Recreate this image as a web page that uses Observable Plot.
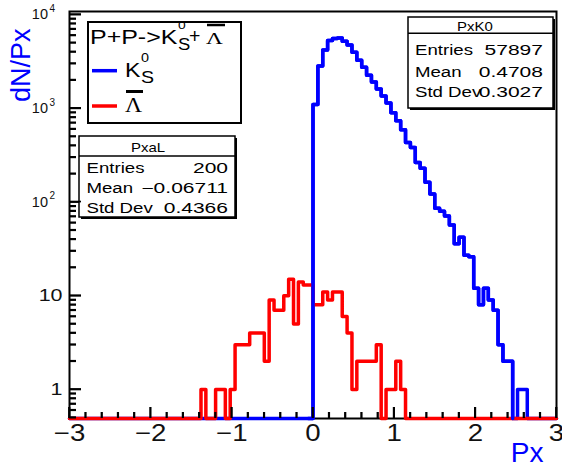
<!DOCTYPE html>
<html><head><meta charset="utf-8">
<script src="https://cdn.jsdelivr.net/npm/d3@7"></script>
<script src="https://cdn.jsdelivr.net/npm/@observablehq/plot@0.6"></script>
</head><body style="margin:0;background:#fff"><div id="chart"></div>
<script>
// ---- data ----
const xRange = [-3, 3];
const binWidth = 0.06;
const yRange = [0.49, 10800];
const kaonStart = 0;
const kaonCounts = [1097, 2838, 4190, 5300, 5570, 5640, 5215, 4730, 3960, 3260, 2750, 2260, 1905, 1608, 1355, 1143, 896, 738, 592, 431, 382, 265, 229, 163, 122, 86, 80, 71, 57, 36, 42, 27, 26, 12, 8, 12, 9, 7, 3, 2, 2, 0, 1, 1];
const lambdaStart = -1.38;
const lambdaCounts = [1, 0, 0, 1, 1, 0, 1, 3, 3, 3, 4, 4, 4, 2, 9, 7, 7, 10, 15, 5, 14, 13, 13, 8, 8, 11, 9, 11, 11, 6, 4, 1, 2, 2, 2, 2, 3, 0, 1, 1, 2, 1];
const xMajorTicks = [-3, -2, -1, 0, 1, 2, 3];
const xMinorTicks = d3.range(-3, 3.0001, 0.2).map(v => +v.toFixed(2)).filter(v => !xMajorTicks.includes(v));
const yMajorTicks = [1, 10, 100, 1000, 10000];
const yPowerTicks = [100, 1000, 10000];
const yPlainTicks = [1, 10];
const yMinorTicks = [0.1, 1, 10, 100, 1000].flatMap(p => [2,3,4,5,6,7,8,9].map(m => +(m*p).toPrecision(3))).filter(v => v >= yRange[0] && v <= yRange[1]);
const kaonStats = {name: "PxK0", rows: [["Entries", "57897"], ["Mean", "0.4708"], ["Std Dev", "0.3027"]]};
const lambdaStats = {name: "PxaL", rows: [["Entries", "200"], ["Mean", "\u22120.06711"], ["Std Dev", "0.4366"]]};

function histPoints(start, counts) {
  const n = Math.round((xRange[1] - xRange[0]) / binWidth);
  const off = Math.round((start - xRange[0]) / binWidth);
  const pts = [];
  for (let i = 0; i < n; i++) {
    const k = i - off;
    const c = (k >= 0 && k < counts.length) ? counts[k] : 0;
    pts.push({x: +(xRange[0] + i * binWidth).toFixed(4), y: c > 0 ? c : yRange[0]});
  }
  pts.push({x: xRange[1], y: pts[n - 1].y});
  return pts;
}
const kaonPts = histPoints(kaonStart, kaonCounts);
const lambdaPts = histPoints(lambdaStart, lambdaCounts);
const firstZero = kaonCounts.indexOf(0);
const kaonTopEnd = kaonStart + firstZero * binWidth;
const kaonTop = kaonPts.filter(d => d.x >= kaonStart - binWidth - 1e-9 && d.x <= kaonTopEnd + 1e-9);

const W = 562, H = 468, mL = 69, mR = 6, mT = 11, mB = 50;
const frameW = W - mL - mR, frameH = H - mT - mB;
const fmtX = d => d < 0 ? "\u2212" + Math.abs(d) : String(d);
const font = "'Liberation Sans', Arial, Helvetica, sans-serif";
const tickStyle = {stroke: "black", strokeWidth: 1.7};

const plot = Plot.plot({
  width: W, height: H,
  marginLeft: mL, marginRight: mR, marginTop: mT, marginBottom: mB,
  style: {fontFamily: font, background: "white", color: "black"},
  x: {domain: xRange, axis: null},
  y: {type: "log", domain: yRange, axis: null},
  marks: [
    Plot.frame({stroke: "black", strokeWidth: 2}),
    Plot.line(kaonPts, {x: "x", y: "y", curve: "step-after", stroke: "#0000ff", strokeWidth: 3.5}),
    Plot.line(lambdaPts, {x: "x", y: "y", curve: "step-after", stroke: "#ff0000", strokeWidth: 3.5}),
    Plot.line(kaonTop, {x: "x", y: "y", curve: "step-after", stroke: "#0000ff", strokeWidth: 3.5}),
    Plot.ruleX(xMinorTicks, {x: d => d, insetTop: frameH - 6, ...tickStyle}),
    Plot.ruleX(xMajorTicks, {x: d => d, insetTop: frameH - 11, ...tickStyle}),
    Plot.ruleY(yMinorTicks, {y: d => d, insetRight: frameW - 7, ...tickStyle}),
    Plot.ruleY(yMajorTicks, {y: d => d, insetRight: frameW - 12, ...tickStyle}),
    Plot.text(xMajorTicks, {x: d => d, frameAnchor: "bottom", dy: 15.5, text: fmtX, fontSize: 23, lineAnchor: "middle", fill: "#111", ariaDescription: "stretch-1.2"}),
    Plot.text(yPlainTicks, {y: d => d, frameAnchor: "left", dx: -7, textAnchor: "end", text: d => String(d), fontSize: 16.5, lineAnchor: "middle", fill: "#111", ariaDescription: "stretch-1.3"}),
    Plot.text(yPowerTicks, {y: d => d, frameAnchor: "left", dx: -21.5, textAnchor: "end", text: () => "10", fontSize: 14.5, lineAnchor: "middle", fill: "#111"}),
    Plot.text(yPowerTicks, {y: d => d, frameAnchor: "left", dx: -20, dy: -6, textAnchor: "start", text: d => String(Math.round(Math.log10(d))), fontSize: 10, lineAnchor: "middle", fill: "#111"}),
    Plot.text(["Px"], {frameAnchor: "bottom-right", dx: -13, dy: 35, textAnchor: "end", text: d => d, fill: "#0000ff", fontSize: 28, lineAnchor: "middle"}),
    Plot.text(["dN/Px"], {frameAnchor: "top-left", dx: -48, dy: 17, rotate: -90, textAnchor: "end", text: d => d, fill: "#0000ff", fontSize: 27, lineAnchor: "middle"})
  ]
});
document.getElementById("chart").append(plot);

// ---- overlays: legend, stats boxes, axis ticks (through Plot's scales) ----
let sx = null, sy = null;
try { sx = plot.scale("x"); sy = plot.scale("y"); } catch (e) {}
const pxX = v => {
  const p = sx && sx.apply ? sx.apply(v) : NaN;
  return Number.isFinite(p) ? p : mL + (v - xRange[0]) / (xRange[1] - xRange[0]) * frameW;
};
const pxY = v => {
  const p = sy && sy.apply ? sy.apply(v) : NaN;
  return Number.isFinite(p) ? p : mT + frameH * (Math.log(yRange[1]) - Math.log(v)) / (Math.log(yRange[1]) - Math.log(yRange[0]));
};
const svg = d3.select(plot);
const ov = svg.append("g").attr("font-family", font).attr("fill", "black").attr("text-anchor", "start");

function txt(g, s, x, y, size, opts = {}) {
  const t = g.append("text").attr("x", x).attr("y", y).attr("font-size", size)
    .attr("text-anchor", opts.anchor || "start").text(s);
  if (opts.family) t.attr("font-family", opts.family);
  if (opts.stretch) t.attr("data-stretch", opts.stretch);
  return t;
}
// legend
const lg = ov.append("g");
lg.append("rect").attr("x", 88).attr("y", 22).attr("width", 153).attr("height", 101).attr("fill", "white").attr("stroke", "black").attr("stroke-width", 2);
txt(lg, "P+P->K", 90, 44, 19.5, {stretch: 1.28});
txt(lg, "0", 178, 29, 11.5, {stretch: 1.2});
txt(lg, "S", 178, 50, 16, {stretch: 1.15});
txt(lg, "+", 189, 43, 19.5);
txt(lg, "\u039B", 206, 44, 16, {family: "'Liberation Serif', serif", stretch: 1.45});
lg.append("line").attr("x1", 207).attr("x2", 225).attr("y1", 25).attr("y2", 25).attr("stroke", "black").attr("stroke-width", 2.5);
lg.append("line").attr("x1", 92).attr("x2", 117).attr("y1", 70.7).attr("y2", 70.7).attr("stroke", "#0000ff").attr("stroke-width", 3.5);
txt(lg, "K", 125, 77, 21, {stretch: 1.1});
txt(lg, "0", 141, 62, 12, {stretch: 1.2});
txt(lg, "S", 141, 83, 17, {stretch: 1.15});
lg.append("line").attr("x1", 92).attr("x2", 117).attr("y1", 106).attr("y2", 106).attr("stroke", "#ff0000").attr("stroke-width", 3.5);
txt(lg, "\u039B", 125, 112, 22, {family: "'Liberation Serif', serif", stretch: 1.07});
lg.append("line").attr("x1", 126).attr("x2", 143).attr("y1", 91.5).attr("y2", 91.5).attr("stroke", "black").attr("stroke-width", 3);

function statsBox(st, x, y, w, h, headerY, headerX, headerBase, labelX, valueX, baselines) {
  const g = ov.append("g");
  g.append("rect").attr("x", x + 2).attr("y", y + 2).attr("width", w).attr("height", h).attr("fill", "black");
  g.append("rect").attr("x", x).attr("y", y).attr("width", w).attr("height", h).attr("fill", "white").attr("stroke", "black").attr("stroke-width", 1.5);
  g.append("line").attr("x1", x).attr("x2", x + w).attr("y1", headerY).attr("y2", headerY).attr("stroke", "black").attr("stroke-width", 1.5);
  txt(g, st.name, headerX, headerBase, 13, {anchor: "middle", stretch: 1.15});
  st.rows.forEach((r, i) => {
    txt(g, r[0], labelX, baselines[i], 14, {stretch: 1.33});
    txt(g, r[1], valueX, baselines[i], 14, {anchor: "end", stretch: 1.5});
  });
}
statsBox(kaonStats, 408, 17, 145, 91, 33.3, 475, 31, 415, 543, [55, 76.5, 96.5]);
statsBox(lambdaStats, 79, 136, 156, 81, 156, 148, 151.7, 86.5, 228, [172.7, 193, 213]);

// ticks drawn last, one line element each, explicit stroke
const bottomPx = H - mB, leftPx = mL;
const tg = ov.append("g");
[[xMinorTicks, 6], [xMajorTicks, 11]].forEach(([ticks, len]) => ticks.forEach(v => {
  const px = pxX(v);
  tg.append("line").attr("x1", px).attr("x2", px).attr("y1", bottomPx).attr("y2", bottomPx - len)
    .attr("stroke", "black").attr("stroke-width", 1.7);
}));
[[yMinorTicks, 7], [yMajorTicks, 12]].forEach(([ticks, len]) => ticks.forEach(v => {
  const py = pxY(v);
  tg.append("line").attr("x1", leftPx).attr("x2", leftPx + len).attr("y1", py).attr("y2", py)
    .attr("stroke", "black").attr("stroke-width", 1.7);
}));

// horizontal stretch of text to mimic the reference's wide glyphs
function stretch(node, f) {
  const L = node.getComputedTextLength();
  if (L > 0) { node.setAttribute("textLength", (L * f).toFixed(2)); node.setAttribute("lengthAdjust", "spacingAndGlyphs"); }
}
plot.querySelectorAll("g[aria-description^='stretch-'] text").forEach(t => {
  const f = +t.closest("g[aria-description]").getAttribute("aria-description").slice(8);
  stretch(t, f);
});
plot.querySelectorAll("text[data-stretch]").forEach(t => stretch(t, +t.getAttribute("data-stretch")));
</script></body></html>
